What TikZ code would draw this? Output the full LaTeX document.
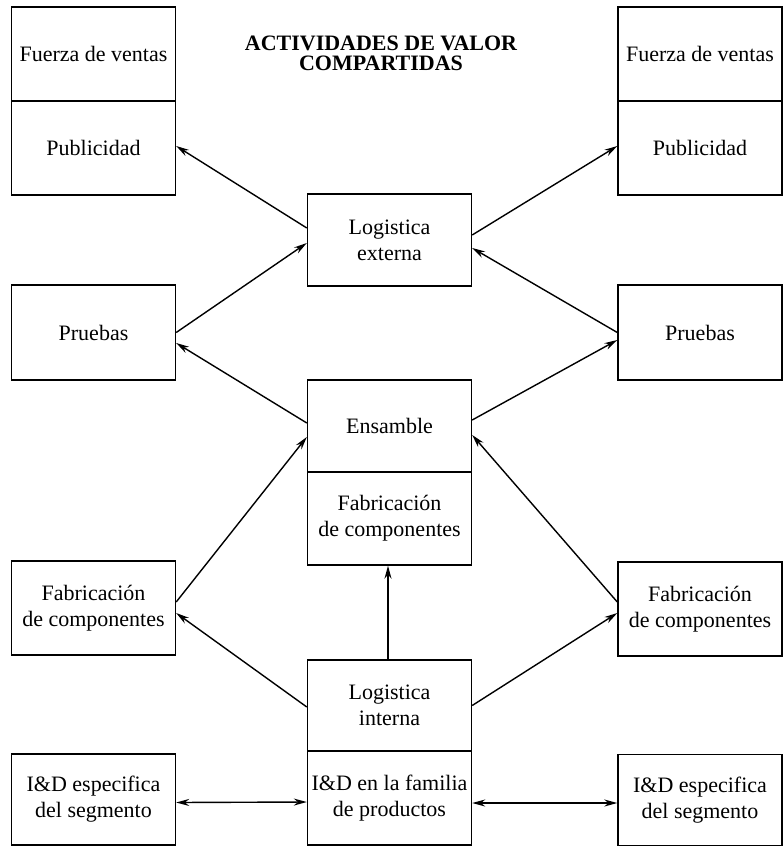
\documentclass[tikz,border=0pt]{standalone}
\usepackage{fontspec}
\setmainfont{Liberation Serif}
\usetikzlibrary{arrows.meta}
\begin{document}
\begin{tikzpicture}[x=1pt, y=-1pt, >={Stealth[length=13pt, width=7pt]}, line width=1.4pt,
        caja/.style={draw, rectangle, inner sep=0pt, align=center, minimum width=164pt,
            font=\fontsize{22}{26}\selectfont}]
    \useasboundingbox (0, 0) rectangle (782, 846);

    % Title
    \node[align=center, font=\fontsize{22}{20}\selectfont\bfseries] (titulo) at (381, 53)
        {ACTIVIDADES DE VALOR\\COMPARTIDAS};

    % Nodes
    \node[caja, minimum height=94pt] at (93.5, 54) (fv1) {Fuerza de ventas};
    \node[caja, minimum height=94pt] at (93.5, 148) (pub1) {Publicidad};
    \node[caja, minimum height=95pt] at (93.5, 332.5) (pru1) {Pruebas};
    \node[caja, minimum height=94pt] at (93.5, 608) (fab1) {Fabricación\\de componentes};
    \node[caja, minimum height=91pt] at (93.5, 799.5) (id1) {I\&D especifica\\del segmento};

    \node[caja, minimum height=92pt] at (389.5, 240) (lext) {Logistica\\externa};
    \node[caja, minimum height=92pt] at (389.5, 426) (ens) {Ensamble};
    \node[caja, minimum height=93pt] at (389.5, 518.5) (fab) {Fabricación\\de componentes};
    \node[caja, minimum height=91pt] at (389.5, 705.5) (lint) {Logistica\\interna};
    \node[caja, minimum height=94pt] at (389.5, 798) (id) {I\&D en la familia\\de productos};

    \node[caja, minimum height=94pt] at (700, 54) (fv2) {Fuerza de ventas};
    \node[caja, minimum height=94pt] at (700, 148) (pub2) {Publicidad};
    \node[caja, minimum height=95pt] at (700, 332.5) (pru2) {Pruebas};
    \node[caja, minimum height=94pt] at (700, 609) (fab2) {Fabricación\\de componentes};
    \node[caja, minimum height=91pt] at (700, 800) (id2) {I\&D especifica\\del segmento};

    % Edges
    \draw[->] ([yshift=12]lext.west) -- ([yshift=2]pub1.east);
    \draw[->] (pru1.east) -- ([yshift=-3]lext.west);
    \draw[->] ([yshift=3]ens.west) -- ([yshift=-10.5]pru1.east);
    \draw[->] ([yshift=5]lext.east) -- ([yshift=2]pub2.west);
    \draw[->] (pru2.west) -- ([yshift=-8]lext.east);
    \draw[->] ([yshift=6]ens.east) -- ([yshift=-7.5]pru2.west);

    \draw[->] ([yshift=6]fab1.east) -- ([yshift=-11]ens.west);
    \draw[->] ([yshift=-1.5]lint.west) -- ([yshift=-5]fab1.east);
    \draw[->] ([yshift=7]fab2.west) -- ([yshift=-9]ens.east);
    \draw[->] (lint.east) -- ([yshift=-4]fab2.west);
    \draw[->] ([xshift=-1.5]lint.north) -- ([xshift=-1.5]fab.south);

    \draw[<->] ([yshift=-3]id1.east) -- ([yshift=-4]id.west);
    \draw[<->] ([yshift=-5]id.east) -- ([yshift=-3]id2.west);
\end{tikzpicture}
\end{document}
